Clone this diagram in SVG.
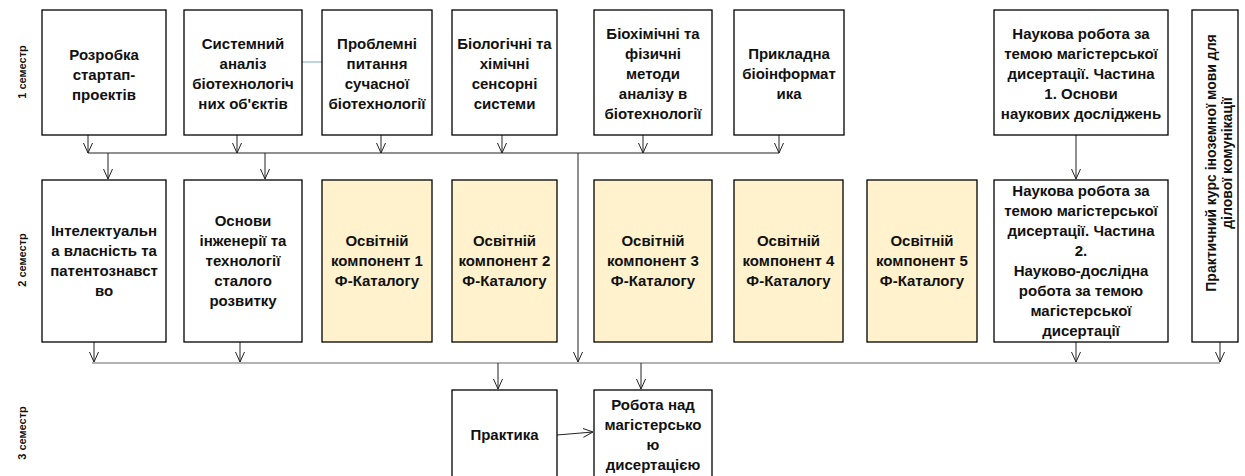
<svg xmlns="http://www.w3.org/2000/svg" width="1245" height="476" viewBox="0 0 1245 476">
<style>
.box{fill:#fff;stroke:#000;stroke-width:1.3}
.yel{fill:#fff2cc;stroke:#000;stroke-width:1.3}
.t{font-family:"Liberation Sans",Arial,sans-serif;font-weight:bold;font-size:15px;fill:#111;text-anchor:middle}
.v{font-size:14px}
.sem{font-family:"Liberation Sans",Arial,sans-serif;font-weight:bold;font-size:11px;fill:#111;text-anchor:middle}
.c{fill:none;stroke:#222;stroke-width:1}
.g{fill:none;stroke:#666;stroke-width:1.2}
</style>
<defs>
<marker id="ah" viewBox="0 0 10 10" refX="10" refY="5" markerWidth="10" markerHeight="10" markerUnits="userSpaceOnUse" orient="auto">
<path d="M0,0.5 L10,5 L0,9.5" fill="none" stroke="#222" stroke-width="1"/>
</marker>
</defs>
<rect width="1245" height="476" fill="#fff"/>

<g id="semesters">
<text class="sem" transform="translate(26,72) rotate(-90)">1 семестр</text>
<text class="sem" transform="translate(26,260) rotate(-90)">2 семестр</text>
<text class="sem" transform="translate(26,433) rotate(-90)">3 семестр</text>
</g>

<g id="connectors">
<line class="c" x1="302" y1="62" x2="322" y2="62" style="stroke:#7fa7d6"/>
<line class="c" x1="88" y1="153" x2="779" y2="153"/>
<line class="c" x1="88" y1="135" x2="88" y2="153" marker-end="url(#ah)"/>
<line class="c" x1="237" y1="135" x2="237" y2="153" marker-end="url(#ah)"/>
<line class="c" x1="381" y1="135" x2="381" y2="153" marker-end="url(#ah)"/>
<line class="c" x1="502" y1="135" x2="502" y2="153" marker-end="url(#ah)"/>
<line class="c" x1="643" y1="135" x2="643" y2="153" marker-end="url(#ah)"/>
<line class="c" x1="779" y1="135" x2="779" y2="153" marker-end="url(#ah)"/>
<line class="c" x1="108" y1="153" x2="108" y2="179" marker-end="url(#ah)"/>
<line class="c" x1="265" y1="153" x2="265" y2="179" marker-end="url(#ah)"/>
<line class="c" x1="578" y1="153" x2="578" y2="362" marker-end="url(#ah)"/>
<line class="c" x1="1076" y1="135" x2="1076" y2="179" marker-end="url(#ah)"/>
<line class="g" x1="92" y1="363" x2="1220" y2="363"/>
<line class="c" x1="94" y1="342" x2="94" y2="362" marker-end="url(#ah)"/>
<line class="c" x1="240" y1="342" x2="240" y2="362" marker-end="url(#ah)"/>
<line class="c" x1="1076" y1="342" x2="1076" y2="362" marker-end="url(#ah)"/>
<line class="c" x1="1220" y1="342" x2="1220" y2="362" marker-end="url(#ah)"/>
<line class="c" x1="498" y1="363" x2="498" y2="389" marker-end="url(#ah)"/>
<line class="c" x1="641" y1="363" x2="641" y2="389" marker-end="url(#ah)"/>
<line class="c" x1="557" y1="435" x2="593" y2="432" marker-end="url(#ah)"/>
</g>

<g id="r1b1"><rect class="box" x="42" y="10" width="124" height="125"/>
<text class="t"><tspan x="104" y="60">Розробка</tspan><tspan x="104" y="80">стартап-</tspan><tspan x="104" y="100">проектів</tspan></text></g>
<g id="r1b2"><rect class="box" x="184" y="10" width="118" height="125"/>
<text class="t"><tspan x="243" y="49">Системний</tspan><tspan x="243" y="69">аналіз</tspan><tspan x="243" y="89">біотехнологіч</tspan><tspan x="243" y="109">них об'єктів</tspan></text></g>
<g id="r1b3"><rect class="box" x="322" y="10" width="110" height="125"/>
<text class="t"><tspan x="377" y="49">Проблемні</tspan><tspan x="377" y="69">питання</tspan><tspan x="377" y="89">сучасної</tspan><tspan x="377" y="109">біотехнології</tspan></text></g>
<g id="r1b4"><rect class="box" x="452" y="10" width="105" height="125"/>
<text class="t"><tspan x="504.5" y="49">Біологічні та</tspan><tspan x="504.5" y="69">хімічні</tspan><tspan x="504.5" y="89">сенсорні</tspan><tspan x="504.5" y="109">системи</tspan></text></g>
<g id="r1b5"><rect class="box" x="594" y="10" width="118" height="125"/>
<text class="t"><tspan x="653" y="39">Біохімічні та</tspan><tspan x="653" y="59">фізичні</tspan><tspan x="653" y="79">методи</tspan><tspan x="653" y="99">аналізу в</tspan><tspan x="653" y="119">біотехнології</tspan></text></g>
<g id="r1b6"><rect class="box" x="734" y="10" width="110" height="125"/>
<text class="t"><tspan x="789" y="59">Прикладна</tspan><tspan x="789" y="79">біоінформат</tspan><tspan x="789" y="99">ика</tspan></text></g>
<g id="r1b7"><rect class="box" x="994" y="10" width="174" height="125"/>
<text class="t"><tspan x="1081" y="39">Наукова робота за</tspan><tspan x="1081" y="59">темою магістерської</tspan><tspan x="1081" y="79">дисертації. Частина</tspan><tspan x="1081" y="99">1. Основи</tspan><tspan x="1081" y="119">наукових досліджень</tspan></text></g>
<g id="vbox"><rect class="box" x="1192" y="10" width="46" height="332"/>
<text class="t v" transform="translate(1216,163) rotate(-90)">Практичний курс іноземної мови для</text>
<text class="t v" transform="translate(1232,163) rotate(-90)">ділової комунікації</text></g>

<g id="r2b1"><rect class="box" x="42" y="180" width="124" height="162"/>
<text class="t"><tspan x="104" y="236">Інтелектуальн</tspan><tspan x="104" y="256">а власність та</tspan><tspan x="104" y="276">патентознавст</tspan><tspan x="104" y="296">во</tspan></text></g>
<g id="r2b2"><rect class="box" x="184" y="180" width="118" height="162"/>
<text class="t"><tspan x="243" y="226">Основи</tspan><tspan x="243" y="246">інженерії та</tspan><tspan x="243" y="266">технології</tspan><tspan x="243" y="286">сталого</tspan><tspan x="243" y="306">розвитку</tspan></text></g>
<g id="r2b3"><rect class="yel" x="322" y="180" width="110" height="162"/>
<text class="t"><tspan x="377" y="246">Освітній</tspan><tspan x="377" y="266">компонент 1</tspan><tspan x="377" y="286">Ф-Каталогу</tspan></text></g>
<g id="r2b4"><rect class="yel" x="452" y="180" width="105" height="162"/>
<text class="t"><tspan x="504.5" y="246">Освітній</tspan><tspan x="504.5" y="266">компонент 2</tspan><tspan x="504.5" y="286">Ф-Каталогу</tspan></text></g>
<g id="r2b5"><rect class="yel" x="594" y="180" width="118" height="162"/>
<text class="t"><tspan x="653" y="246">Освітній</tspan><tspan x="653" y="266">компонент 3</tspan><tspan x="653" y="286">Ф-Каталогу</tspan></text></g>
<g id="r2b6"><rect class="yel" x="734" y="180" width="109" height="162"/>
<text class="t"><tspan x="788.5" y="246">Освітній</tspan><tspan x="788.5" y="266">компонент 4</tspan><tspan x="788.5" y="286">Ф-Каталогу</tspan></text></g>
<g id="r2b7"><rect class="yel" x="867" y="180" width="110" height="162"/>
<text class="t"><tspan x="922" y="246">Освітній</tspan><tspan x="922" y="266">компонент 5</tspan><tspan x="922" y="286">Ф-Каталогу</tspan></text></g>
<g id="r2b8"><rect class="box" x="994" y="180" width="174" height="162"/>
<text class="t"><tspan x="1081" y="196">Наукова робота за</tspan><tspan x="1081" y="216">темою магістерської</tspan><tspan x="1081" y="236">дисертації. Частина</tspan><tspan x="1081" y="256">2.</tspan><tspan x="1081" y="276">Науково-дослідна</tspan><tspan x="1081" y="296">робота за темою</tspan><tspan x="1081" y="316">магістерської</tspan><tspan x="1081" y="336">дисертації</tspan></text></g>

<g id="r3b1"><rect class="box" x="452" y="390" width="105" height="100"/>
<text class="t"><tspan x="504.5" y="440">Практика</tspan></text></g>
<g id="r3b2"><rect class="box" x="594" y="390" width="118" height="100"/>
<text class="t"><tspan x="653" y="410">Робота над</tspan><tspan x="653" y="430">магістерсько</tspan><tspan x="653" y="450">ю</tspan><tspan x="653" y="470">дисертацією</tspan></text></g>
</svg>
